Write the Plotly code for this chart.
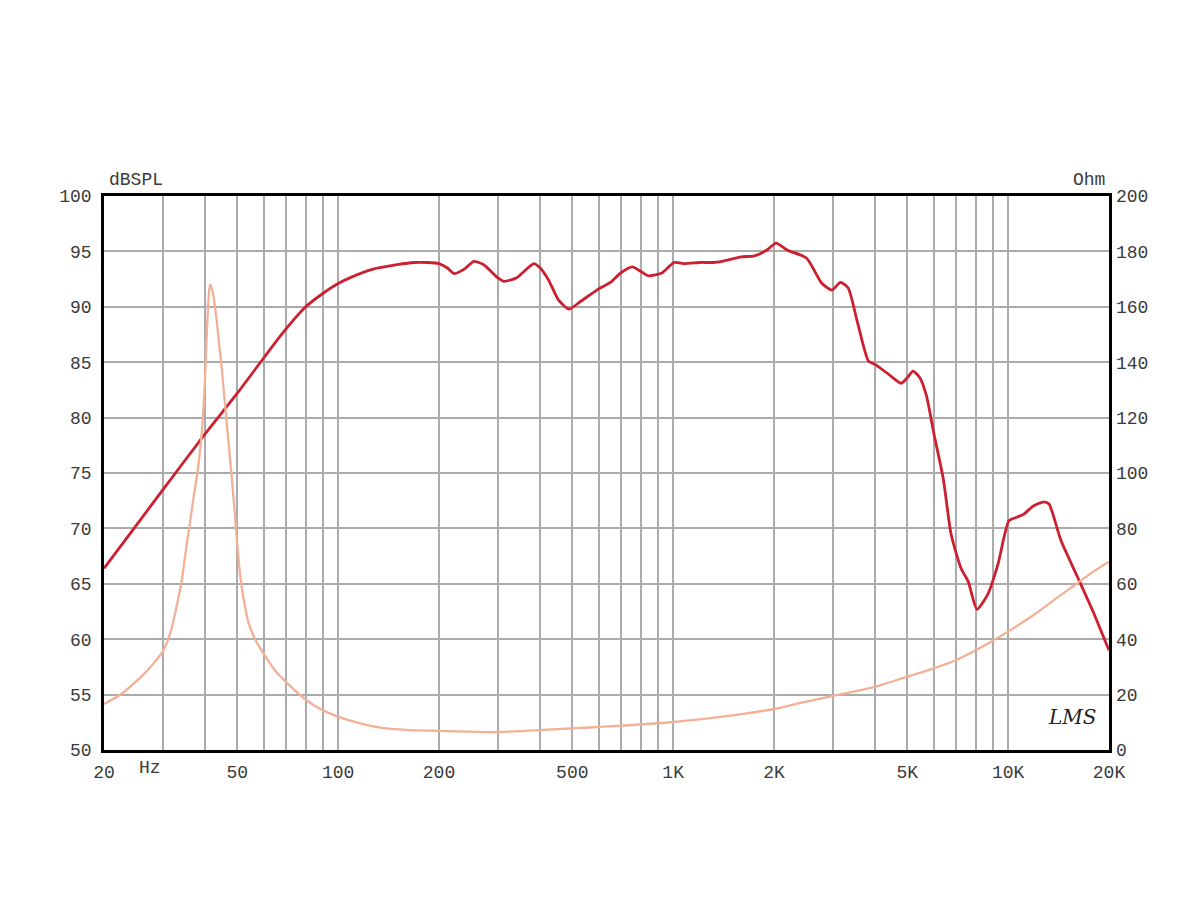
import plotly.graph_objects as go

# SPL response (dB)
spl_freq = [20, 25, 30, 40, 50, 60, 69, 80, 90, 100, 110, 127, 150, 168, 185, 200, 212, 222, 238,
            254, 272, 300, 312, 340, 384, 401, 425, 455, 489, 530, 598, 650, 697, 756, 800, 844,
            925, 1006, 1083, 1200, 1316, 1400, 1597, 1748, 1900, 2028, 2194, 2500, 2774, 2976,
            3157, 3330, 3556, 3830, 4007, 4400, 4790, 5000, 5200, 5450, 5700, 6007, 6400, 6754,
            7233, 7600, 8072, 8707, 9329, 10058, 10600, 11152, 11862, 12794, 13242, 14380, 16170,
            18040, 19500, 20000]
spl_db = [66.4, 70.3, 73.5, 78.5, 82.2, 85.4, 87.8, 90.0, 91.2, 92.1, 92.7, 93.4, 93.8, 94.0, 94.0,
          93.9, 93.5, 93.0, 93.4, 94.1, 93.8, 92.6, 92.3, 92.6, 93.9, 93.5, 92.4, 90.6, 89.8, 90.5,
          91.6, 92.2, 93.05, 93.6, 93.2, 92.8, 93.05, 94.0, 93.9, 94.0, 94.0, 94.1, 94.5, 94.6,
          95.1, 95.75, 95.1, 94.4, 92.15, 91.5, 92.2, 91.7, 88.5, 85.1, 84.8, 83.9, 83.1, 83.6,
          84.2, 83.6, 82.0, 78.5, 74.5, 69.5, 66.4, 65.2, 62.7, 64.1, 66.8, 70.7, 71.0, 71.3,
          72.0, 72.4, 72.2, 68.9, 65.5, 62.3, 59.8, 59.0]

# Impedance (Ohm)
imp_freq = [20, 22.5, 24, 26.3, 28, 30, 31.5, 33.2, 34.2, 35.1, 36.1, 37.1, 38, 39, 39.9, 40.6,
            41.1, 41.5, 42.1, 43.1, 44, 44.9, 46.5, 48, 49.1, 50, 51, 52.3, 54, 56, 58, 60, 65,
            71, 77.5, 85, 97.5, 115, 137, 165, 200, 250, 300, 397, 598, 1000, 1500, 2000, 2400,
            3000, 4000, 5000, 6000, 7000, 8000, 10000, 12000, 14000, 16000, 18000, 20000]
imp_ohm = [16.6, 20.2, 23, 27.4, 31, 35.7, 42, 53.8, 62, 72, 82, 92, 100, 112, 130, 152,
           164, 168, 166, 158, 148, 138, 118, 100, 86, 74, 63, 54, 46, 41, 37.5, 34.7, 28.5,
           23.8, 19.5, 16, 12.5, 9.8, 7.9, 7.2, 6.9, 6.6, 6.5, 7.2, 8.3, 10.1, 12.5, 14.8, 17,
           19.5, 22.8, 26.5, 29.5, 32.5, 36, 42.8, 49, 55, 60, 64.5, 68]

# Grid positions and labels
grid_freqs = [20, 30, 40, 50, 60, 70, 80, 90, 100, 200, 300, 400, 500, 600, 700, 800, 900,
              1000, 2000, 3000, 4000, 5000, 6000, 7000, 8000, 9000, 10000, 20000]
freq_labels = {20: "20", 50: "50", 100: "100", 200: "200", 500: "500", 1000: "1K",
               2000: "2K", 5000: "5K", 10000: "10K", 20000: "20K"}

FONT = "Liberation Mono"
TXT = "#3a3a3a"

fig = go.Figure()
fig.add_trace(go.Scatter(x=imp_freq, y=imp_ohm, yaxis="y2", mode="lines",
                         line=dict(color="#f2b096", width=2.3, shape="spline", smoothing=1.0),
                         hoverinfo="x+y", showlegend=False))
fig.add_trace(go.Scatter(x=spl_freq, y=spl_db, mode="lines",
                         line=dict(color="#cc2030", width=2.8, shape="spline", smoothing=0.6),
                         hoverinfo="x+y", showlegend=False))

fig.update_layout(
    width=1200, height=909,
    margin=dict(l=96, r=99, t=188, b=167),
    paper_bgcolor="white", plot_bgcolor="white",
    font=dict(family=FONT, size=18, color=TXT),
    xaxis=dict(type="log", range=[1.30103, 4.30103],
               tickvals=grid_freqs,
               ticktext=[freq_labels.get(f, "") for f in grid_freqs],
               showgrid=True, gridcolor="#ababab", gridwidth=2,
               showline=True, linecolor="black", linewidth=2.5, mirror=True,
               ticks="", ticklabelstandoff=4, zeroline=False),
    yaxis=dict(range=[50, 100], dtick=5, showgrid=True, gridcolor="#ababab", gridwidth=2,
               showline=True, linecolor="black", linewidth=2.5, mirror=True,
               ticks="", ticklabelstandoff=6, zeroline=False),
    yaxis2=dict(range=[0, 200], dtick=20, overlaying="y", side="right", showgrid=False,
                ticks="", ticklabelstandoff=6, zeroline=False, showline=False),
)

fig.add_annotation(text="dBSPL", xref="paper", yref="paper", x=0.032, y=1.0, xanchor="center",
                   yanchor="bottom", yshift=4, showarrow=False,
                   font=dict(family=FONT, size=18, color=TXT))
fig.add_annotation(text="Ohm", xref="paper", yref="paper", x=0.980, y=1.0, xanchor="center",
                   yanchor="bottom", yshift=4, showarrow=False,
                   font=dict(family=FONT, size=18, color=TXT))
fig.add_annotation(text="Hz", xref="paper", yref="paper", x=0.046, y=0.0, xanchor="center",
                   yanchor="top", yshift=-6, showarrow=False,
                   font=dict(family=FONT, size=18, color=TXT))
fig.add_annotation(text="LMS", xref="paper", yref="paper", x=0.963, y=0.034, xanchor="center",
                   showarrow=False,
                   font=dict(family="DejaVu Serif", size=20, color="#222222", style="italic"))

fig.write_html("out.html")
